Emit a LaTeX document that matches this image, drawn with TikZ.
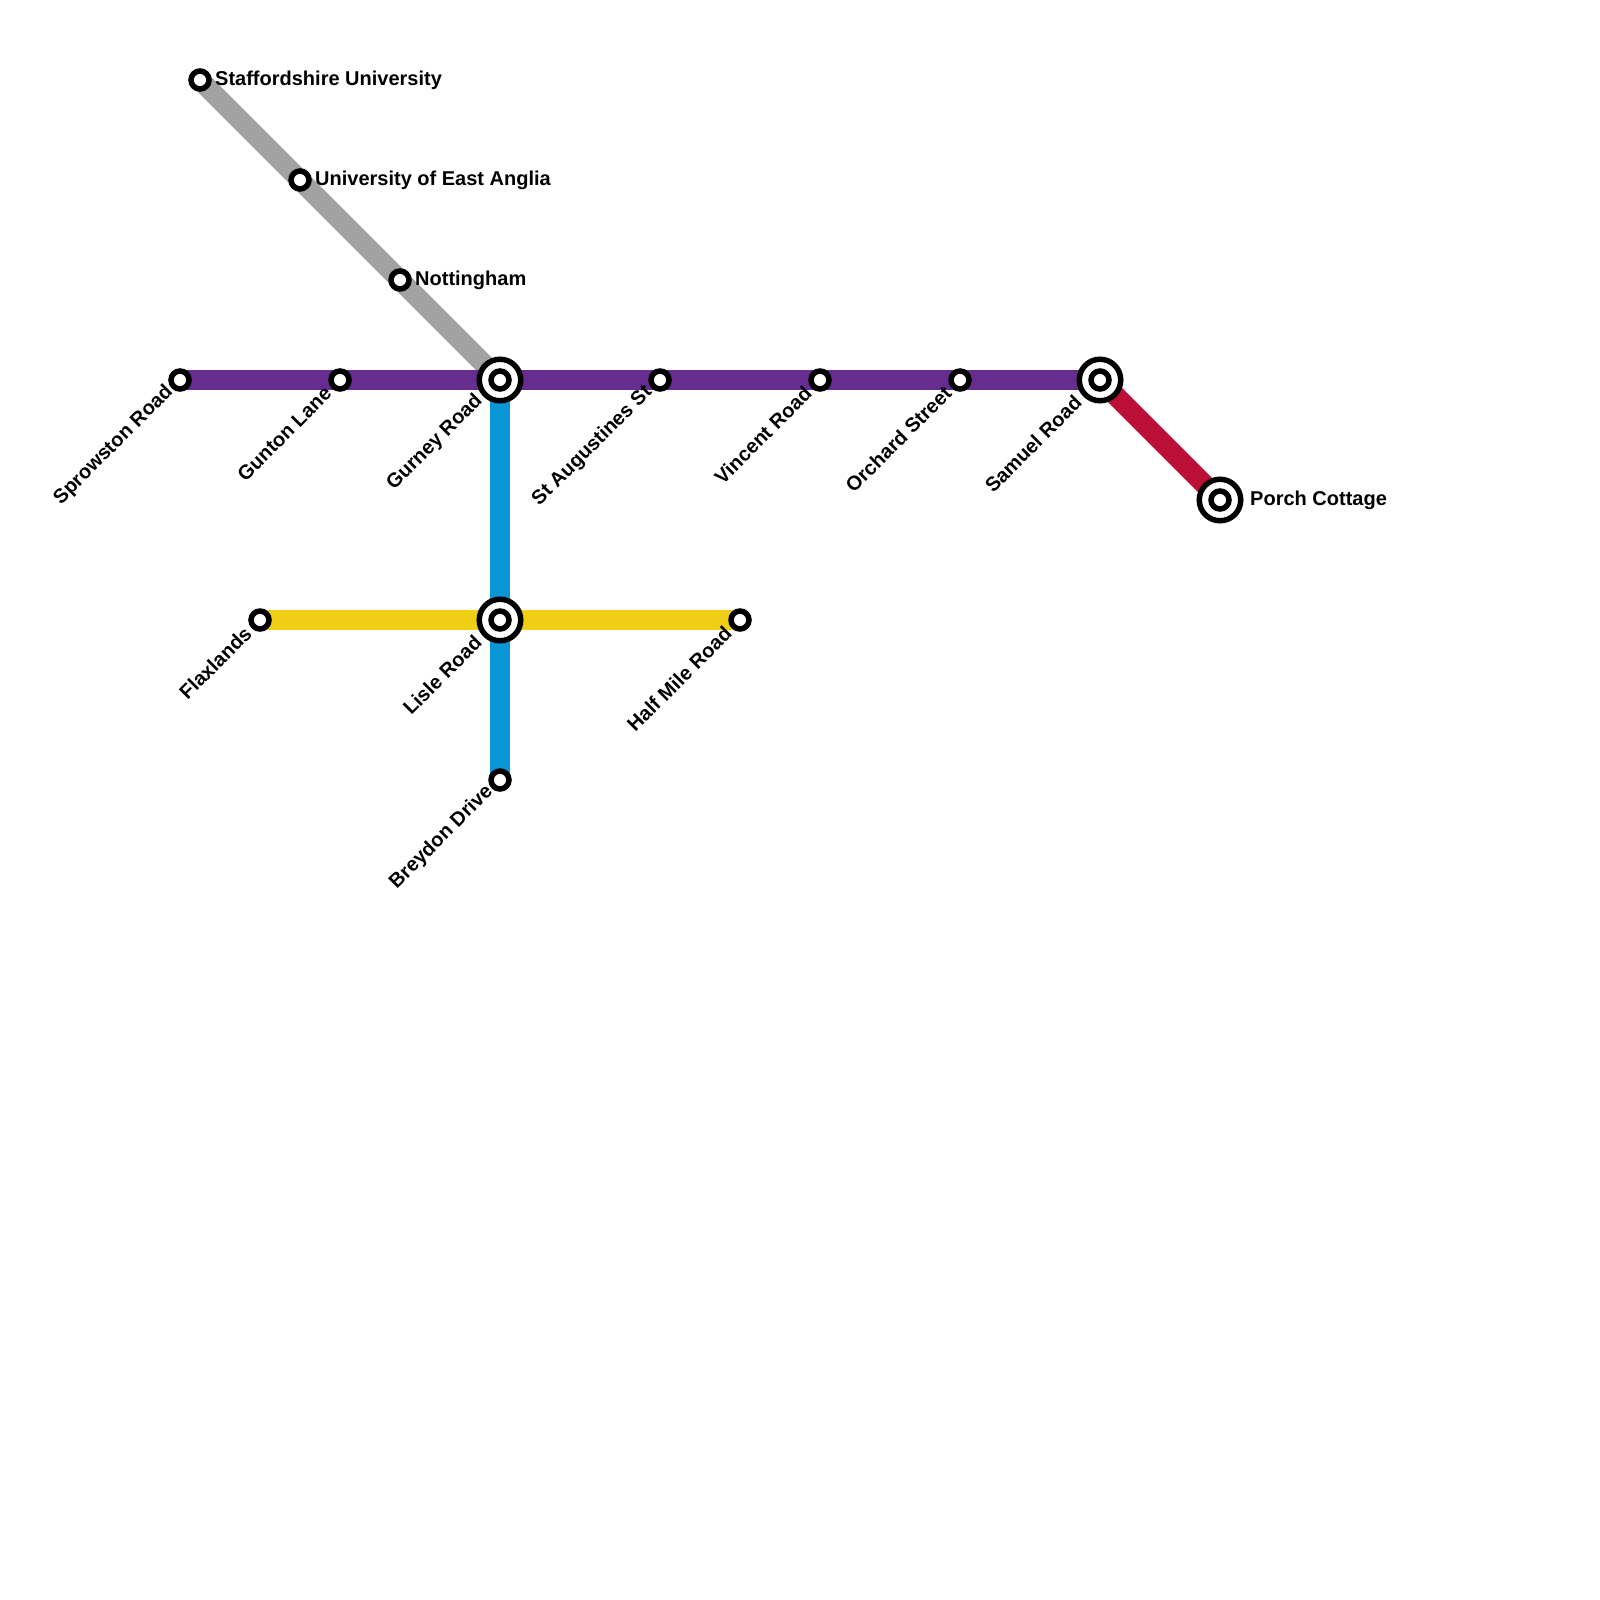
\documentclass[tikz,border=0pt]{standalone}
\usepackage{fontspec}
\setmainfont{Liberation Sans}
\usetikzlibrary{backgrounds}
\definecolor{linegrey}{HTML}{A2A2A2}
\definecolor{linepurple}{HTML}{662C90}
\definecolor{lineblue}{HTML}{0896D7}
\definecolor{lineyellow}{HTML}{F0CE15}
\definecolor{linered}{HTML}{BD1038}
\tikzset{
  stop/.style={circle,draw=black,fill=white,line width=5.5pt,inner sep=0pt,minimum size=18pt,outer sep=0pt},
  hubouter/.style={circle,draw=black,fill=white,line width=5.5pt,inner sep=0pt,minimum size=41.5pt,outer sep=0pt},
  metro/.style={line width=20pt,line cap=butt},
  lab/.style={font=\bfseries\fontsize{20pt}{22pt}\selectfont,inner sep=0pt,text=black},
  labne/.style={lab,rotate=45,anchor=east},
  labe/.style={lab,anchor=west}
}
\begin{document}
\begin{tikzpicture}[x=1pt,y=-1pt]
\useasboundingbox (0,0) rectangle (1600,1600);
% stations
\node[stop] (staff) at (200,80) {};
\node[stop] (uea) at (300,180) {};
\node[stop] (nott) at (400,280) {};
\node[hubouter] (gurney) at (500,380) {};
\node[stop] (gurneyin) at (500,380) {};
\node[stop] (sprow) at (180,380) {};
\node[stop] (gunton) at (340,380) {};
\node[stop] (staug) at (660,380) {};
\node[stop] (vincent) at (820,380) {};
\node[stop] (orchard) at (960,380) {};
\node[hubouter] (samuel) at (1100,380) {};
\node[stop] (samuelin) at (1100,380) {};
\node[hubouter] (porch) at (1220,500) {};
\node[stop] (porchin) at (1220,500) {};
\node[stop] (flax) at (260,620) {};
\node[hubouter] (lisle) at (500,620) {};
\node[stop] (islein) at (500,620) {};
\node[stop] (half) at (740,620) {};
\node[stop] (breydon) at (500,780) {};
% lines
\begin{scope}[on background layer]
\draw[metro,linegrey] (staff.center) -- (uea.center) -- (nott.center) -- (gurney.center);
\draw[metro,linepurple] (sprow.center) -- (gunton.center) -- (gurney.center) -- (staug.center) -- (vincent.center) -- (orchard.center) -- (samuel.center);
\draw[metro,lineblue] (gurney.center) -- (lisle.center) -- (breydon.center);
\draw[metro,lineyellow] (flax.center) -- (lisle.center) -- (half.center);
\draw[metro,linered] (samuel.center) -- (porch.center);
\end{scope}
% labels
\node[labe] (tstaff) at (215,80) {Staffordshire University};
\node[labe] (tuea) at (315,180) {University of East Anglia};
\node[labe] (tnott) at (415,280) {Nottingham};
\node[labe] (tporch) at (1250,500) {Porch Cottage};
\node[labne] (tsprow) at (170,389) {Sprowston Road};
\node[labne] (tgunton) at (328,390) {Gunton Lane};
\node[labne] (tgurney) at (479.5,398) {Gurney Road};
\node[labne] (tstaug) at (649,389.5) {St Augustines St};
\node[labne] (tvincent) at (808,390) {Vincent Road};
\node[labne] (torchard) at (948,389.5) {Orchard Street};
\node[labne] (tsamuel) at (1078,399) {Samuel Road};
\node[labne] (tflax) at (248,630) {Flaxlands};
\node[labne] (tlisle) at (478,639) {Lisle Road};
\node[labne] (thalf) at (728,630) {Half Mile Road};
\node[labne] (tbreydon) at (490,789) {Breydon Drive};
\end{tikzpicture}
\end{document}
